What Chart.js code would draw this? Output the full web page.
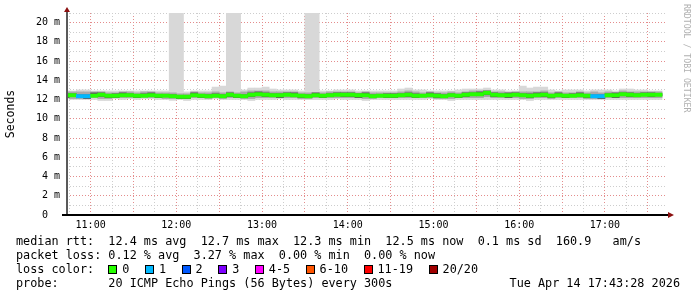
<!DOCTYPE html>
<html>
<head>
<meta charset="utf-8">
<script src="https://cdn.jsdelivr.net/npm/chart.js@4.4.1/dist/chart.umd.min.js"></script>
<style>
  html, body { margin: 0; padding: 0; background: #fff; }
  #wrap { position: relative; width: 697px; height: 297px; overflow: hidden; }
  #chart { position: absolute; left: 0; top: 0; }
  .legend { position: absolute; left: 16px; top: 234px; font: 11.8px "DejaVu Sans Mono", monospace;
            line-height: 14px; white-space: pre; color: #000; }
  .box { display: inline-block; width: 7px; height: 7px; border: 1px solid #000; margin-right: 5px; vertical-align: -1px; }
  .lbl { margin-right: 15.5px; }
  .date { position: absolute; right: 17px; top: 276px; font: 11.8px "DejaVu Sans Mono", monospace; line-height: 14px; white-space: pre; }
  .credit { position: absolute; left: 682px; top: 4px; writing-mode: vertical-rl; font: 8.2px "DejaVu Sans Mono", monospace;
            line-height: 10px; color: #b0b0b0; white-space: pre; }
</style>
</head>
<body>
<div id="wrap">
  <canvas id="chart" width="697" height="297"></canvas>
  <div class="credit">RRDTOOL / TOBI OETIKER</div>
  <div class="legend" id="legend"></div>
  <div class="date">Tue Apr 14 17:43:28 2026</div>
</div>
<script>
// graph window: 7 hours ending 17:43:28, 5 minute steps (minutes since midnight)
const windowStart = 10 * 60 + 43 + 28 / 60;
const windowEnd = windowStart + 7 * 60;
const firstStep = 10 * 60 + 40;
const stepMinutes = 5;

// median rtt per step (ms)
const median = [
  12.45, 12.45, 12.35, 12.35, 12.40, 12.50, 12.40, 12.40, 12.45, 12.45,
  12.40, 12.40, 12.45, 12.40, 12.40, 12.35, 12.30, 12.30, 12.45, 12.40,
  12.35, 12.40, 12.35, 12.50, 12.40, 12.35, 12.50, 12.55, 12.50, 12.45,
  12.45, 12.50, 12.45, 12.40, 12.35, 12.45, 12.40, 12.45, 12.50, 12.50,
  12.50, 12.45, 12.45, 12.35, 12.40, 12.40, 12.40, 12.45, 12.50, 12.40,
  12.40, 12.45, 12.40, 12.35, 12.45, 12.40, 12.50, 12.55, 12.55, 12.70,
  12.50, 12.45, 12.45, 12.50, 12.45, 12.40, 12.45, 12.50, 12.40, 12.45,
  12.40, 12.40, 12.45, 12.40, 12.35, 12.35, 12.45, 12.45, 12.55, 12.50,
  12.45, 12.50, 12.50, 12.50
];

// lost pings (of 20) per step
const lost = [
  0, 0, 1, 1, 0, 0, 0, 0, 0, 0,
  0, 0, 0, 0, 0, 0, 0, 0, 0, 0,
  0, 0, 0, 0, 0, 0, 0, 0, 0, 0,
  0, 0, 0, 0, 0, 0, 0, 0, 0, 0,
  0, 0, 0, 0, 0, 0, 0, 0, 0, 0,
  0, 0, 0, 0, 0, 0, 0, 0, 0, 0,
  0, 0, 0, 0, 0, 0, 0, 0, 0, 0,
  0, 0, 0, 0, 1, 1, 0, 0, 0, 0,
  0, 0, 0, 0
];

// smoke: fastest / slowest ping per step (ms)
const smokeMin = [
  12.1, 12.0, 12.0, 12.0, 12.0, 11.9, 11.9, 12.1, 12.0, 12.1,
  12.0, 12.1, 12.1, 12.0, 12.0, 11.9, 12.0, 11.9, 12.0, 12.0,
  12.0, 12.1, 12.0, 12.0, 12.0, 12.0, 11.9, 12.0, 12.0, 12.0,
  12.1, 12.0, 12.0, 12.0, 12.0, 12.0, 12.0, 12.0, 12.1, 12.0,
  12.0, 12.0, 11.9, 12.0, 12.0, 12.0, 12.0, 12.0, 12.0, 12.0,
  12.0, 12.1, 12.0, 12.0, 11.9, 12.0, 12.0, 12.0, 12.0, 12.0,
  12.0, 12.0, 12.0, 12.0, 12.0, 11.9, 12.0, 12.0, 12.0, 12.0,
  12.0, 12.0, 12.0, 12.0, 12.0, 12.0, 12.0, 12.0, 12.0, 12.0,
  12.0, 12.0, 12.0, 12.0
];
const smokeMax = [
  12.9, 12.9, 13.0, 13.0, 12.9, 12.9, 12.9, 12.9, 12.9, 12.9,
  12.9, 12.9, 12.9, 12.9, 12.9, 21.0, 21.0, 12.8, 12.9, 12.9,
  12.9, 13.3, 13.4, 21.0, 21.0, 13.0, 13.2, 13.2, 13.3, 13.1,
  13.0, 13.0, 13.0, 12.9, 21.0, 21.0, 12.9, 12.9, 13.0, 13.0,
  13.0, 12.9, 12.9, 12.9, 12.9, 12.9, 12.9, 13.1, 13.2, 13.0,
  13.0, 12.9, 12.9, 12.9, 12.9, 13.0, 13.1, 13.1, 13.1, 13.2,
  13.0, 13.0, 12.9, 12.9, 13.4, 13.2, 13.3, 13.3, 13.0, 12.9,
  13.0, 13.0, 13.0, 12.9, 13.0, 13.0, 13.0, 12.9, 13.1, 13.1,
  13.0, 13.0, 12.9, 12.9
];
// smoke: middle pings
const midLow = [
  12.2, 12.1, 12.1, 12.1, 12.2, 12.1, 12.1, 12.2, 12.2, 12.2,
  12.2, 12.2, 12.2, 12.2, 12.1, 12.1, 12.1, 12.1, 12.2, 12.2,
  12.1, 12.2, 12.1, 12.2, 12.2, 12.1, 12.1, 12.2, 12.2, 12.2,
  12.2, 12.2, 12.2, 12.1, 12.1, 12.2, 12.2, 12.2, 12.2, 12.2,
  12.2, 12.2, 12.1, 12.1, 12.2, 12.2, 12.2, 12.2, 12.2, 12.2,
  12.2, 12.2, 12.1, 12.1, 12.1, 12.2, 12.2, 12.2, 12.2, 12.3,
  12.2, 12.2, 12.2, 12.2, 12.1, 12.1, 12.2, 12.2, 12.1, 12.2,
  12.2, 12.2, 12.2, 12.1, 12.1, 12.1, 12.2, 12.2, 12.2, 12.2,
  12.2, 12.2, 12.2, 12.2
];
const midHigh = [
  12.8, 12.8, 12.8, 12.8, 12.8, 12.8, 12.7, 12.7, 12.8, 12.8,
  12.7, 12.8, 12.8, 12.7, 12.7, 12.7, 12.6, 12.6, 12.8, 12.7,
  12.7, 12.8, 12.7, 12.8, 12.7, 12.8, 12.9, 12.9, 12.9, 12.8,
  12.8, 12.8, 12.8, 12.7, 12.7, 12.7, 12.7, 12.8, 12.8, 12.8,
  12.8, 12.7, 12.8, 12.7, 12.7, 12.7, 12.7, 12.8, 12.9, 12.8,
  12.7, 12.8, 12.7, 12.7, 12.8, 12.7, 12.8, 12.9, 12.9, 12.9,
  12.8, 12.8, 12.7, 12.8, 12.8, 12.8, 12.8, 12.9, 12.7, 12.8,
  12.7, 12.7, 12.8, 12.7, 12.8, 12.7, 12.8, 12.7, 12.9, 12.8,
  12.8, 12.8, 12.8, 12.8
];
// smoke: pings closest to the median
const coreLow = [
  12.2, 12.3, 12.2, 12.1, 12.3, 12.3, 12.2, 12.2, 12.3, 12.3,
  12.2, 12.3, 12.3, 12.2, 12.3, 12.2, 12.1, 12.1, 12.3, 12.2,
  12.2, 12.3, 12.2, 12.3, 12.2, 12.2, 12.3, 12.4, 12.3, 12.3,
  12.2, 12.4, 12.3, 12.2, 12.2, 12.3, 12.2, 12.3, 12.4, 12.3,
  12.3, 12.2, 12.3, 12.2, 12.3, 12.2, 12.2, 12.3, 12.3, 12.2,
  12.3, 12.3, 12.2, 12.2, 12.3, 12.2, 12.3, 12.4, 12.4, 12.5,
  12.3, 12.3, 12.2, 12.4, 12.3, 12.2, 12.3, 12.3, 12.2, 12.3,
  12.2, 12.3, 12.3, 12.2, 12.2, 12.1, 12.3, 12.2, 12.4, 12.3,
  12.3, 12.4, 12.3, 12.4
];
const coreHigh = [
  12.6, 12.6, 12.5, 12.5, 12.7, 12.7, 12.5, 12.6, 12.7, 12.6,
  12.5, 12.6, 12.7, 12.5, 12.5, 12.5, 12.4, 12.4, 12.7, 12.5,
  12.5, 12.6, 12.5, 12.7, 12.5, 12.5, 12.7, 12.8, 12.7, 12.6,
  12.6, 12.7, 12.7, 12.5, 12.5, 12.7, 12.5, 12.6, 12.7, 12.7,
  12.7, 12.6, 12.7, 12.5, 12.5, 12.6, 12.6, 12.6, 12.7, 12.6,
  12.5, 12.7, 12.6, 12.5, 12.6, 12.5, 12.7, 12.7, 12.8, 12.9,
  12.7, 12.6, 12.7, 12.7, 12.6, 12.6, 12.7, 12.7, 12.5, 12.7,
  12.5, 12.6, 12.7, 12.5, 12.5, 12.5, 12.6, 12.7, 12.7, 12.7,
  12.6, 12.7, 12.7, 12.6
];

// loss colour legend
const lossLabels = ['0', '1', '2', '3', '4-5', '6-10', '11-19', '20/20'];
const lossUpper = [0, 1, 2, 3, 5, 10, 19, 20];
const lossColors = ['#26ff00', '#00b8ff', '#0059ff', '#7e00ff', '#ff00ff', '#ff5500', '#ff0000', '#a10000'];

const statsLines = [
  'median rtt:  12.4 ms avg  12.7 ms max  12.3 ms min  12.5 ms now  0.1 ms sd  160.9   am/s',
  'packet loss: 0.12 % avg  3.27 % max  0.00 % min  0.00 % now'
];
const probeLine = 'probe:       20 ICMP Echo Pings (56 Bytes) every 300s';

const fontFamily = '"DejaVu Sans Mono", monospace';
const majorGrid = 'rgb(228,140,140)';
const minorGrid = 'rgb(205,205,205)';

const stepX = median.map((_, i) => firstStep + stepMinutes * (i + 0.5));

function lossColor(n) {
    const idx = lossUpper.findIndex(u => n <= u);
    return lossColors[idx];
}

function band(low, high, color, order) {
    return {
        data: low.map((v, i) => ({ x: stepX[i], y: [v, high[i]] })),
        backgroundColor: color,
        order: order,
        grouped: false,
        barPercentage: 1,
        categoryPercentage: 1,
        borderWidth: 0
    };
}

const medianBand = {
    data: median.map((v, i) => ({ x: stepX[i], y: [v - 0.17, v + 0.17] })),
    backgroundColor: lost.map(lossColor),
    order: 1,
    grouped: false,
    barPercentage: 1,
    categoryPercentage: 1,
    borderWidth: 0
};

// axis lines with the little rrdtool arrows
const rrdAxes = {
    id: 'rrdAxes',
    afterDraw(chart) {
        const { ctx, chartArea: a } = chart;
        ctx.save();
        ctx.fillStyle = '#5a5a5a';
        ctx.fillRect(a.left - 1, a.top - 3, 2, a.bottom - a.top + 3);
        ctx.fillStyle = '#000';
        ctx.fillRect(a.left - 5, a.bottom - 1, a.right - a.left + 9, 2);
        ctx.fillStyle = '#8b1010';
        ctx.beginPath();
        ctx.moveTo(a.left, a.top - 6);
        ctx.lineTo(a.left - 3, a.top - 1);
        ctx.lineTo(a.left + 3, a.top - 1);
        ctx.closePath();
        ctx.fill();
        ctx.beginPath();
        ctx.moveTo(a.right + 7, a.bottom);
        ctx.lineTo(a.right + 1, a.bottom - 3);
        ctx.lineTo(a.right + 1, a.bottom + 3);
        ctx.closePath();
        ctx.fill();
        ctx.restore();
    }
};

function hh(v) {
    return String(Math.floor(v / 60)).padStart(2, '0') + ':00';
}

new Chart(document.getElementById('chart'), {
    type: 'bar',
    data: {
        datasets: [
            medianBand,
            band(coreLow, coreHigh, '#5c5c5c', 2),
            band(midLow, midHigh, '#a9a9a9', 3),
            band(smokeMin, smokeMax, '#d8d8d8', 4)
        ]
    },
    options: {
        responsive: false,
        animation: false,
        devicePixelRatio: 1,
        layout: { padding: { left: 0, right: 30, top: 13, bottom: 62 } },
        plugins: { legend: { display: false }, tooltip: { enabled: false } },
        scales: {
            x: {
                type: 'linear',
                min: windowStart,
                max: windowEnd,
                offset: false,
                afterBuildTicks: s => {
                    const t = [];
                    for (let m = 645; m < windowEnd; m += 15) t.push({ value: m });
                    s.ticks = t;
                },
                afterFit: s => { s.height = 20; },
                grid: {
                    offset: false,
                    drawTicks: false,
                    color: c => (c.tick && c.tick.value % 30 === 0 ? majorGrid : minorGrid)
                },
                border: { display: false, dash: [1, 2] },
                ticks: {
                    callback: v => (v % 60 === 0 ? hh(v) : ''),
                    font: { family: fontFamily, size: 10 },
                    color: '#000',
                    padding: 4,
                    autoSkip: false,
                    maxRotation: 0,
                    minRotation: 0
                }
            },
            y: {
                min: 0,
                max: 21,
                afterBuildTicks: s => {
                    const t = [];
                    for (let v = 0; v <= 21; v++) t.push({ value: v });
                    s.ticks = t;
                },
                afterFit: s => { s.width = 67; },
                grid: {
                    drawTicks: false,
                    color: c => (c.tick && c.tick.value % 2 === 0 ? majorGrid : minorGrid)
                },
                border: { display: false, dash: [1, 2] },
                ticks: {
                    callback: v => (v === 0 ? '0  ' : (v % 2 === 0 ? v + ' m' : '')),
                    font: { family: fontFamily, size: 10 },
                    color: '#000',
                    padding: 7,
                    autoSkip: false
                },
                title: {
                    display: true,
                    text: 'Seconds',
                    font: { family: fontFamily, size: 11.5 },
                    color: '#000',
                    padding: { top: 4, bottom: 0 }
                }
            }
        }
    },
    plugins: [rrdAxes]
});

// text legend under the graph
const legend = document.getElementById('legend');
legend.appendChild(document.createTextNode(statsLines.join('\n') + '\nloss color:  '));
lossLabels.forEach((label, i) => {
    const box = document.createElement('span');
    box.className = 'box';
    box.style.background = lossColors[i];
    const txt = document.createElement('span');
    txt.className = 'lbl';
    txt.textContent = label;
    legend.appendChild(box);
    legend.appendChild(txt);
});
legend.appendChild(document.createTextNode('\n' + probeLine));
</script>
</body>
</html>
